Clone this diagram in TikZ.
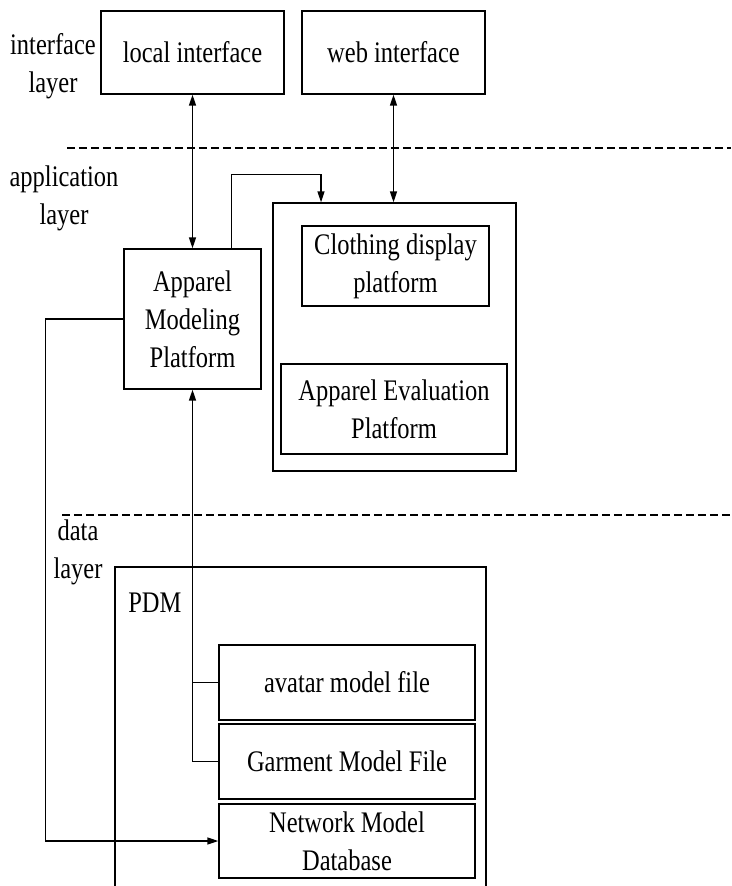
\documentclass[tikz,border=0pt]{standalone}
\usepackage{fontspec}
\setmainfont{Liberation Serif}[FakeStretch=0.82]
\usetikzlibrary{arrows.meta}

\tikzset{
    box/.style={draw, line width=0.8pt, align=center, inner sep=2pt},
    arr/.style={line width=0.8pt, -{Triangle[length=0.22cm,width=0.14cm]}},
    dblarr/.style={line width=0.8pt, {Triangle[length=0.22cm,width=0.14cm]}-{Triangle[length=0.22cm,width=0.14cm]}},
    layerlabel/.style={align=center, inner sep=0pt},
    txt/.style={font=\fontsize{17}{21.6}\selectfont}
}

\begin{document}
\begin{tikzpicture}[x=0.02cm, y=-0.02cm, every node/.style={txt}]
    \useasboundingbox (0,0) rectangle (731,886);
    \node[box, minimum width=3.66cm, minimum height=1.66cm] (local) at (192.5,52.5) {local interface};
    \node[box, minimum width=3.66cm, minimum height=1.66cm] (web) at (393.5,52.5) {web interface};
    \node[box, minimum width=2.74cm, minimum height=2.8cm] (modeling) at (192.5,319) {Apparel\\Modeling\\Platform};
    \node[box, minimum width=4.86cm, minimum height=5.36cm] (appbox) at (394.5,337) {};
    \node[box, minimum width=3.74cm, minimum height=1.6cm] (display) at (395.5,266) {Clothing display\\platform};
    \node[box, minimum width=4.52cm, minimum height=1.8cm] (evaluation) at (394,409) {Apparel Evaluation\\Platform};
    \node[box, minimum width=5.12cm, minimum height=1.5cm] (avatar) at (347,682.5) {avatar model file};
    \node[box, minimum width=5.12cm, minimum height=1.5cm] (garment) at (347,761.5) {Garment Model File};
    \node[box, minimum width=5.12cm, minimum height=1.48cm] (network) at (347,841) {Network Model\\Database};

    \node[layerlabel] (interfacelayer) at (53,66.5) {interface\\layer};
    \node[layerlabel] (applayer) at (64,198.5) {application\\layer};
    \node[layerlabel] (datalayer) at (78,552) {data\\layer};

    \draw[dashed, line width=0.8pt, dash pattern=on 0.16cm off 0.08cm] (67,148) -- (731,148);
    \draw[dashed, line width=0.8pt, dash pattern=on 0.16cm off 0.08cm] (62,515) -- (731,515);

    \draw[line width=0.8pt] (115,886) |- (486,567) -- (486,886);
    \node[anchor=west, inner sep=0pt] (pdm) at (128,603) {PDM};

    \draw[dblarr] (local.south) -- (modeling.north);
    \draw[dblarr] (web.south) -- (web.south |- appbox.north);
    \draw[arr] ([xshift=-0.6cm]modeling.north east) -- ++(0,-74) -| ([xshift=-1.47cm]appbox.north);
    \draw[arr] (modeling.west) -- ++(-78,0) |- (network.west);
    \draw[arr] (garment.west) -| (modeling.south);
    \draw[line width=0.8pt] (avatar.west) -- (avatar.west -| modeling.south);
\end{tikzpicture}
\end{document}
